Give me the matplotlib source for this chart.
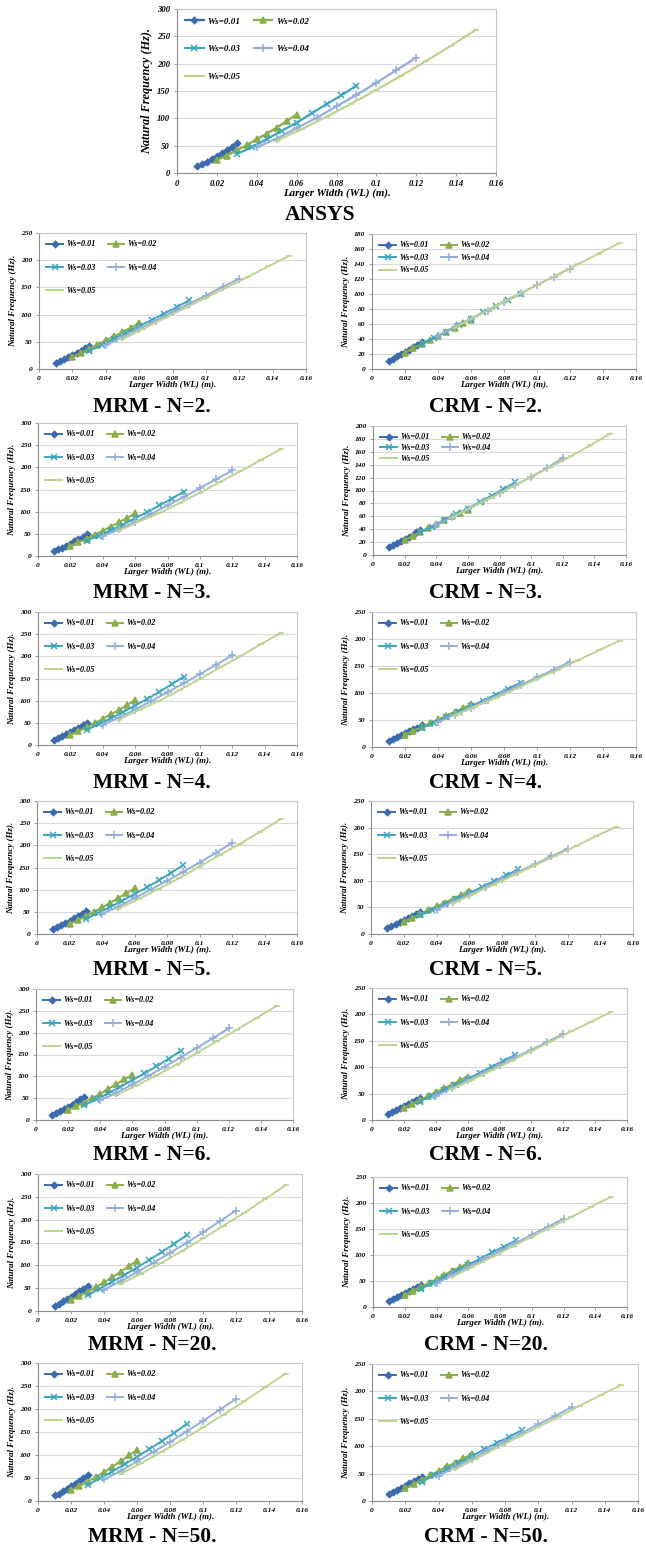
import matplotlib
matplotlib.use('Agg')
import matplotlib.pyplot as plt

plt.rcParams['font.family'] = ['Liberation Serif', 'DejaVu Serif']

# larger width WL (m) used for each smaller width Ws
ws_labels = ['Ws=0.01', 'Ws=0.02', 'Ws=0.03', 'Ws=0.04', 'Ws=0.05']
wl_001 = [0.01, 0.0125, 0.015, 0.0175, 0.02, 0.0225, 0.025, 0.0275, 0.03]
wl_002 = [0.02, 0.025, 0.03, 0.035, 0.04, 0.045, 0.05, 0.055, 0.06]
wl_003 = [0.03, 0.0375, 0.045, 0.0525, 0.06, 0.0675, 0.075, 0.0825, 0.09]
wl_004 = [0.04, 0.05, 0.06, 0.07, 0.08, 0.09, 0.10, 0.11, 0.12]
wl_005 = [0.05, 0.0625, 0.075, 0.0875, 0.10, 0.1125, 0.125, 0.1375, 0.15]
wl_all = [wl_001, wl_002, wl_003, wl_004, wl_005]

# natural frequency (Hz), one row per Ws
f_ansys = [[12, 16, 21, 26, 31, 37, 42, 48, 55],
           [24, 32, 42, 51, 62, 72, 83, 95, 107],
           [35, 47, 62, 77, 92, 109, 126, 142, 160],
           [47, 63, 82, 101, 122, 143, 165, 188, 211],
           [59, 80, 103, 127, 152, 178, 205, 233, 262]]
f_mrm2 = [[11, 15, 19, 22, 26, 30, 34, 38, 42],
          [22, 30, 37, 45, 53, 60, 68, 76, 84],
          [33, 44, 56, 67, 79, 90, 102, 114, 126],
          [44, 59, 74, 89, 105, 120, 135, 151, 166],
          [55, 74, 93, 112, 131, 150, 169, 189, 208]]
f_crm2 = [[11, 14, 17, 20, 23, 26, 29, 32, 36],
          [22, 28, 33, 39, 44, 50, 55, 61, 66],
          [33, 42, 50, 59, 67, 76, 84, 92, 100],
          [44, 56, 67, 78, 90, 101, 112, 123, 134],
          [55, 70, 84, 98, 112, 126, 140, 154, 168]]
f_mrm3 = [[11, 15, 19, 23, 28, 33, 38, 43, 49],
          [23, 31, 39, 48, 57, 66, 76, 86, 96],
          [34, 46, 58, 71, 85, 99, 114, 129, 145],
          [45, 61, 77, 95, 114, 133, 153, 173, 193],
          [57, 78, 97, 119, 143, 167, 191, 216, 241]]
f_crm3 = [[12, 15, 19, 22, 25, 28, 31, 35, 38],
          [23, 29, 36, 42, 48, 54, 60, 65, 70],
          [35, 44, 54, 63, 72, 82, 92, 102, 113],
          [46, 59, 71, 84, 96, 109, 121, 135, 150],
          [58, 74, 89, 105, 121, 137, 153, 170, 188]]
f_mrm4 = [[11, 15, 20, 24, 29, 34, 39, 45, 50],
          [23, 31, 40, 49, 59, 69, 79, 90, 101],
          [34, 47, 60, 74, 89, 104, 120, 137, 154],
          [45, 62, 80, 99, 119, 139, 160, 181, 202],
          [57, 79, 100, 124, 149, 175, 200, 227, 253]]
f_crm4 = [[12, 15, 19, 22, 26, 29, 33, 36, 40],
          [23, 30, 37, 44, 51, 58, 65, 72, 79],
          [35, 45, 55, 65, 76, 86, 97, 108, 119],
          [46, 60, 73, 87, 101, 115, 129, 143, 158],
          [58, 75, 91, 108, 126, 143, 161, 179, 197]]
f_mrm5 = [[11, 15, 20, 25, 30, 35, 40, 46, 52],
          [23, 31, 40, 50, 60, 70, 81, 92, 103],
          [34, 47, 61, 75, 90, 105, 121, 138, 155],
          [45, 62, 81, 100, 120, 140, 161, 183, 205],
          [57, 79, 102, 126, 152, 178, 204, 231, 259]]
f_crm5 = [[12, 15, 19, 23, 26, 30, 34, 37, 41],
          [23, 30, 37, 45, 52, 59, 66, 74, 81],
          [35, 45, 56, 66, 77, 88, 99, 110, 122],
          [46, 60, 74, 88, 103, 117, 131, 146, 160],
          [58, 75, 93, 111, 129, 147, 165, 184, 202]]
f_mrm6 = [[11, 15, 20, 25, 30, 35, 41, 47, 53],
          [23, 31, 40, 50, 60, 71, 82, 93, 104],
          [34, 47, 61, 76, 91, 107, 123, 140, 158],
          [45, 62, 81, 101, 122, 143, 165, 187, 210],
          [57, 79, 102, 127, 153, 180, 207, 234, 262]]
f_crm6 = [[12, 15, 19, 23, 27, 31, 34, 38, 42],
          [23, 30, 38, 45, 53, 60, 67, 75, 82],
          [35, 46, 56, 67, 78, 89, 101, 112, 124],
          [46, 60, 75, 89, 104, 119, 133, 148, 163],
          [58, 76, 94, 112, 131, 149, 168, 186, 205]]
f_mrm20 = [[12, 16, 21, 26, 31, 37, 43, 49, 55],
           [24, 32, 42, 52, 63, 74, 86, 98, 110],
           [35, 49, 64, 79, 95, 112, 129, 147, 166],
           [47, 65, 85, 106, 127, 149, 172, 196, 220],
           [59, 82, 106, 132, 159, 187, 215, 245, 275]]
f_crm20 = [[12, 16, 20, 24, 27, 31, 35, 39, 43],
           [23, 31, 39, 46, 54, 62, 70, 77, 85],
           [35, 46, 58, 70, 81, 93, 105, 116, 128],
           [46, 61, 77, 92, 108, 123, 139, 154, 170],
           [58, 77, 96, 116, 135, 154, 173, 193, 212]]
f_mrm50 = [[12, 16, 21, 26, 32, 37, 43, 49, 56],
           [24, 32, 42, 52, 63, 75, 86, 99, 111],
           [35, 49, 64, 80, 96, 113, 130, 148, 167],
           [47, 65, 86, 107, 128, 151, 174, 198, 222],
           [59, 82, 107, 133, 160, 188, 217, 247, 277]]
f_crm50 = [[12, 16, 20, 24, 28, 32, 36, 40, 44],
           [23, 31, 39, 47, 55, 63, 70, 78, 86],
           [35, 47, 58, 70, 82, 94, 106, 117, 129],
           [46, 62, 77, 93, 108, 124, 140, 155, 171],
           [58, 77, 97, 116, 135, 154, 174, 193, 212]]

titles = ['ANSYS', 'MRM - N=2.', 'CRM - N=2.', 'MRM - N=3.', 'CRM - N=3.',
          'MRM - N=4.', 'CRM - N=4.', 'MRM - N=5.', 'CRM - N=5.',
          'MRM - N=6.', 'CRM - N=6.', 'MRM - N=20.', 'CRM - N=20.',
          'MRM - N=50.', 'CRM - N=50.']
freqs = [f_ansys, f_mrm2, f_crm2, f_mrm3, f_crm3, f_mrm4, f_crm4, f_mrm5, f_crm5,
         f_mrm6, f_crm6, f_mrm20, f_crm20, f_mrm50, f_crm50]
y_max = [300, 250, 180, 300, 200, 300, 250, 300, 250, 300, 250, 300, 250, 300, 250]
y_step = [50, 50, 20, 50, 20, 50, 50, 50, 50, 50, 50, 50, 50, 50, 50]
x_ticks = [0, 0.02, 0.04, 0.06, 0.08, 0.1, 0.12, 0.14, 0.16]
x_ticklabels = ['0', '0.02', '0.04', '0.06', '0.08', '0.1', '0.12', '0.14', '0.16']

# layout in pixels: left, right, top, bottom of the plot area, title centre x, y
W, H = 646, 1547
boxes = [(177, 496, 9, 173, 320, 215),
         (39, 306, 233, 369, 152, 407), (372, 636, 234, 369, 486, 407),
         (38, 297, 423, 556, 152, 593), (373, 626, 426, 555, 486, 593),
         (38, 297, 612, 745, 152, 783), (372, 636, 612, 747, 486, 783),
         (37, 297, 801, 934, 152, 970), (371, 633, 801, 934, 486, 970),
         (36, 293, 989, 1120, 152, 1155), (372, 627, 988, 1120, 486, 1155),
         (38, 302, 1174, 1311, 152, 1345), (373, 627, 1177, 1307, 486, 1345),
         (38, 302, 1363, 1501, 152, 1537), (372, 638, 1364, 1501, 486, 1537)]
leg_space = [2.1, 1.85, 0.55, 1.85, 0.35, 1.85, 1.85, 1.85, 1.85, 1.85, 1.85,
             1.85, 1.85, 1.85, 1.85]

colors = ['#3A6BB0', '#8AAE48', '#3AA6C0', '#94AEDC', '#BCD48E']
markers = ['D', '^', 'x', '+', '_']
msizes = [3.2, 5, 5, 6, 5]

fig = plt.figure(figsize=(W / 100, H / 100), dpi=100)

for i in range(len(titles)):
    l, r, t, b, tx, ty = boxes[i]
    big = i == 0
    fs = 6.2 if big else 5.4
    ax = fig.add_axes([l / W, 1 - b / H, (r - l) / W, (b - t) / H])
    lines = []
    for wl, f, c, m, ms in zip(wl_all, freqs[i], colors, markers, msizes):
        ln, = ax.plot(wl, f, color=c, marker=m, markersize=ms,
                      markeredgewidth=1.1, linewidth=1.6 if big else 1.4)
        lines.append(ln)
    ax.set_xlim(0, 0.16)
    ax.set_ylim(0, y_max[i])
    ax.set_xticks(x_ticks)
    ax.set_xticklabels(x_ticklabels)
    ax.set_yticks(list(range(0, y_max[i] + 1, y_step[i])))
    ax.yaxis.grid(True, color='#D9D9D9', linewidth=0.8)
    ax.set_axisbelow(True)
    for sp in ax.spines.values():
        sp.set_color('#C8C8C8')
        sp.set_linewidth(0.8)
    ax.spines['left'].set_color('#8C8C8C')
    ax.spines['bottom'].set_color('#8C8C8C')
    ax.tick_params(length=2, width=0.6, color='#8C8C8C', pad=3)
    for lab in ax.get_xticklabels() + ax.get_yticklabels():
        lab.set_fontsize(fs)
        lab.set_fontweight('bold')
        lab.set_fontstyle('italic')
    ax.set_xlabel('Larger Width (WL) (m).', fontsize=7.8 if big else 6.4,
                  fontweight='bold', fontstyle='italic', labelpad=0)
    ax.set_ylabel('Natural Frequency (Hz).', fontsize=8.8 if big else 6.5,
                  fontweight='bold', fontstyle='italic', labelpad=3)
    order = [0, 2, 4, 1, 3]
    ax.legend([lines[k] for k in order], [ws_labels[k] for k in order], ncol=2,
              loc='upper left', frameon=False, handlelength=2.0,
              handletextpad=0.4, columnspacing=1.5, labelspacing=leg_space[i],
              borderaxespad=0.5,
              prop={'family': 'Liberation Serif', 'weight': 'bold',
                    'style': 'italic', 'size': 6.6 if big else 5.9})
    fig.text(tx / W, 1 - ty / H, titles[i], ha='center', va='center',
             fontsize=15.5, fontweight='bold')

fig.savefig('out.png', dpi=100)
